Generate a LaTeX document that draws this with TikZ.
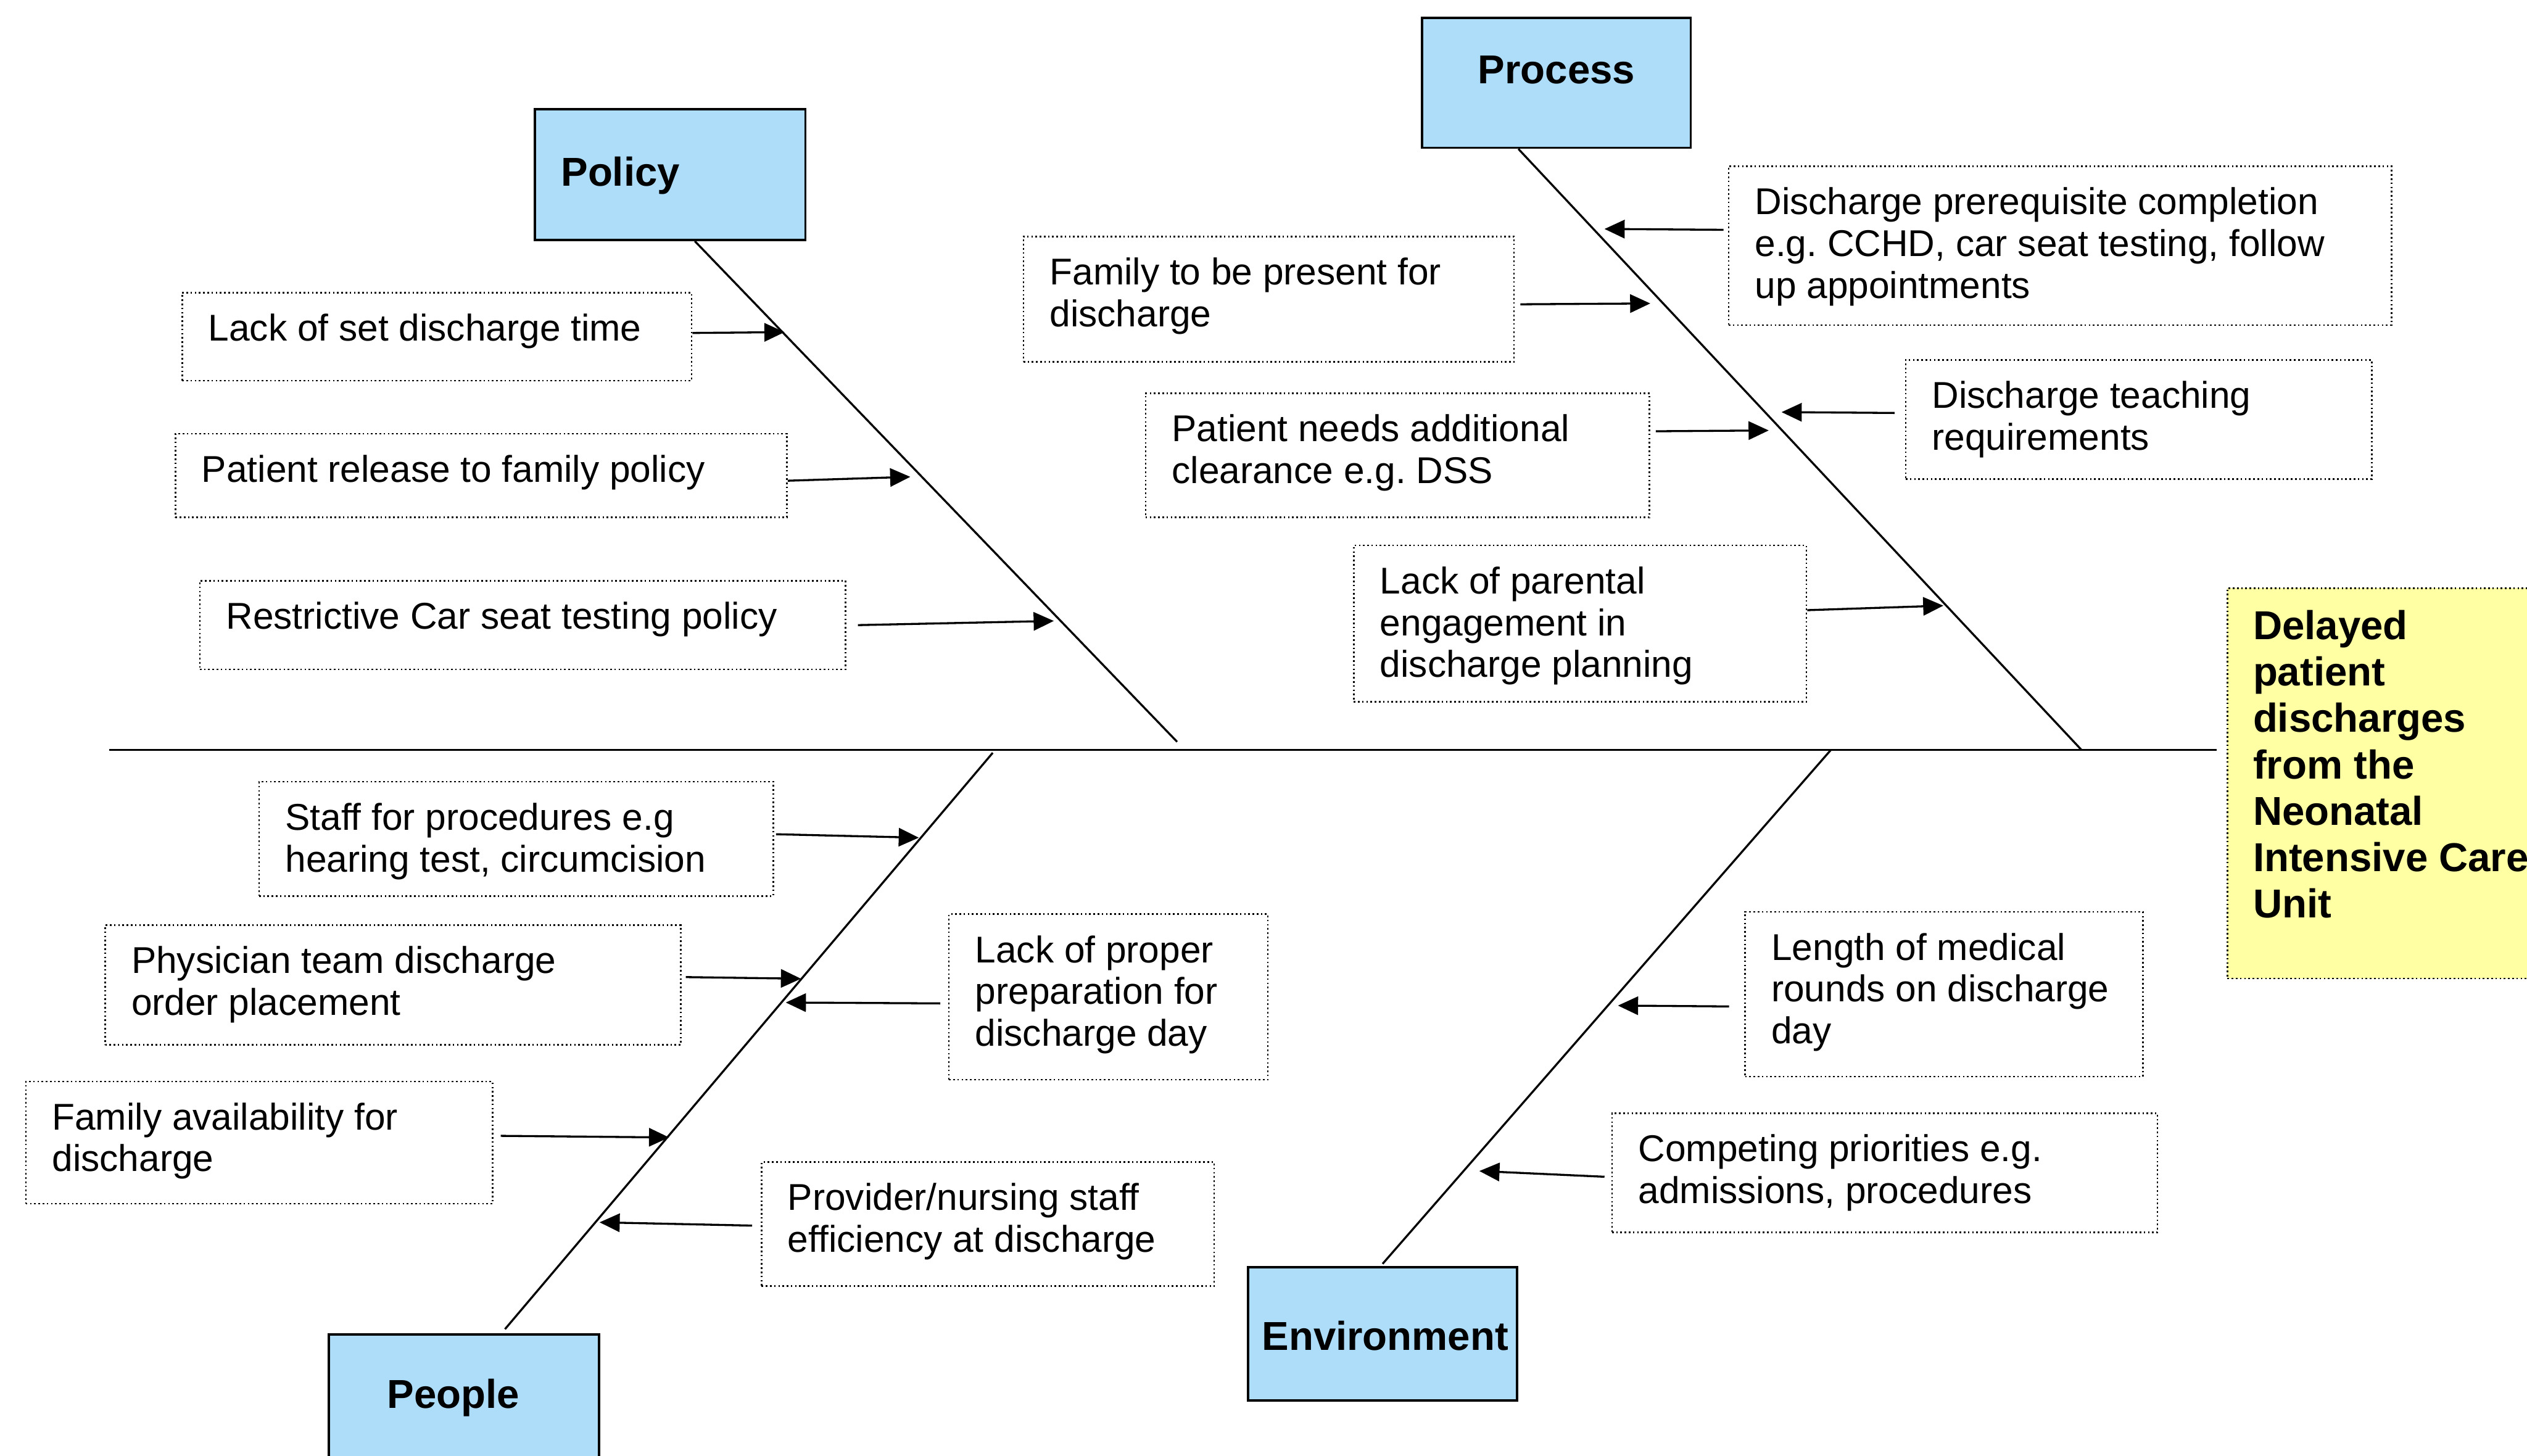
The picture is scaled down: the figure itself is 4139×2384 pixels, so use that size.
\documentclass[tikz,border=0pt]{standalone}
\usepackage{fontspec}
\setmainfont{Liberation Sans}
\usetikzlibrary{arrows.meta}

\definecolor{catblue}{RGB}{174,221,250}
\definecolor{effyellow}{RGB}{255,255,163}

% text block: width, height, left inset, first-baseline depth, text
\newcommand\tbox[5]{\parbox[c][#2][t]{#1}{\frenchspacing\raggedright\leftskip=#3\rule{0pt}{#4}#5}}
\newcommand\cause[3]{\tbox{#1}{#2}{0.43cm}{0.79cm}{#3}}

\tikzset{
  causebox/.style={draw, line width=0.75pt, dash pattern=on 0.75pt off 1.2pt,
    inner sep=0pt, anchor=north west,
    font=\fontsize{17.36pt}{19.49pt}\selectfont},
  catbox/.style={draw, line width=1.1pt, fill=catblue, inner sep=0pt,
    anchor=north west, font=\bfseries\fontsize{18.78pt}{21.62pt}\selectfont},
  effectbox/.style={draw, line width=0.75pt, dash pattern=on 0.75pt off 1.2pt,
    fill=effyellow, inner sep=0pt, anchor=north west,
    font=\bfseries\fontsize{18.78pt}{21.62pt}\selectfont},
  bone/.style={line width=0.95pt},
  arr/.style={line width=0.95pt, -{Triangle[length=0.33cm,width=0.30cm]}}
}

\begin{document}
\begin{tikzpicture}[x=0.01cm, y=-0.01cm]
\useasboundingbox (0,0) rectangle (4139,2384);
\fill[white] (0,0) rectangle (4139,2384);
\clip (0,0) rectangle (4139,2384);

% ---- effect ----
\node[effectbox] (effect) at (3647,962)
  {\tbox{5.6cm}{6.39cm}{0.42cm}{0.84cm}{Delayed\\patient\\discharges\\from the\\Neonatal\\Intensive Care\\Unit}};

% ---- spine ----
\coordinate (tail) at (179,1228);
\coordinate (head) at (3631,1228);
\draw[bone] (tail) -- (head);

% ---- category boxes ----
\node[catbox] (policy) at (874,177)   {\tbox{4.43cm}{2.14cm}{0.43cm}{1.26cm}{Policy}};
\node[catbox] (process) at (2327,27)  {\tbox{4.40cm}{2.13cm}{0.92cm}{1.08cm}{Process}};
\node[catbox] (people) at (537,2184)  {\tbox{4.42cm}{2.14cm}{0.95cm}{1.20cm}{People}};
\node[catbox] (environment) at (2042,2074) {\tbox{4.41cm}{2.18cm}{0.23cm}{1.35cm}{Environment}};

% ---- bones ----
\coordinate (pol-end) at (1928,1215);
\coordinate (pro-end) at (3409,1228);
\coordinate (peo-end) at (1626,1233);
\coordinate (env-end) at (2999,1228);
\draw[bone] ([xshift=0.405cm]policy.south) -- (pol-end);
\draw[bone] ([xshift=-0.62cm]process.south) -- (pro-end);
\draw[bone] ([xshift=0.67cm,yshift=0.07cm]people.north) -- (peo-end);
\draw[bone] ([yshift=0.04cm]environment.north) -- (env-end);

% ---- causes: policy ----
\node[causebox] (lack) at (297,478)     {\cause{8.34cm}{1.44cm}{Lack of set discharge time}};
\node[causebox] (release) at (286,709)  {\cause{10.01cm}{1.37cm}{Patient release to family policy}};
\node[causebox] (carseat) at (326,950)  {\cause{10.57cm}{1.45cm}{Restrictive Car seat testing policy}};

% ---- causes: process ----
\node[causebox] (present) at (1675,386)  {\cause{8.03cm}{2.05cm}{Family to be present for\\discharge}};
\node[causebox] (clearance) at (1875,643) {\cause{8.25cm}{2.03cm}{Patient needs additional\\clearance e.g. DSS}};
\node[causebox] (parental) at (2216,892) {\cause{7.41cm}{2.56cm}{Lack of parental\\engagement in\\discharge planning}};
\node[causebox] (prereq) at (2830,271)   {\cause{10.85cm}{2.60cm}{Discharge prerequisite completion\\e.g. CCHD, car seat testing, follow\\up appointments}};
\node[causebox] (teaching) at (3120,588) {\cause{7.63cm}{1.95cm}{Discharge teaching\\requirements}};

% ---- causes: people ----
\node[causebox] (staff) at (423,1279)      {\cause{8.42cm}{1.87cm}{Staff for procedures e.g\\hearing test, circumcision}};
\node[causebox] (physician) at (171,1514)  {\cause{9.42cm}{1.96cm}{Physician team discharge\\order placement}};
\node[causebox] (available) at (41,1770)   {\cause{7.64cm}{2.00cm}{Family availability for\\discharge}};
\node[causebox] (preparation) at (1553,1496) {\cause{5.22cm}{2.71cm}{Lack of proper\\preparation for\\discharge day}};
\node[causebox] (efficiency) at (1246,1902) {\cause{7.41cm}{2.03cm}{Provider/nursing staff\\efficiency at discharge}};

% ---- causes: environment ----
\node[causebox] (rounds) at (2857,1492)     {\cause{6.51cm}{2.70cm}{Length of medical\\rounds on discharge\\day}};
\node[causebox] (priorities) at (2639,1822) {\cause{8.93cm}{1.95cm}{Competing priorities e.g.\\admissions, procedures}};

% ---- arrow tips on the bones ----
\coordinate (t-lack) at (1285,544);
\coordinate (t-release) at (1491,781);
\coordinate (t-carseat) at (1726,1017);
\coordinate (t-present) at (2703,497);
\coordinate (t-clearance) at (2897,705);
\coordinate (t-parental) at (3183,992);
\coordinate (t-prereq) at (2628,375);
\coordinate (t-teaching) at (2918,675);
\coordinate (t-staff) at (1505,1372);
\coordinate (t-physician) at (1312,1603);
\coordinate (t-available) at (1096,1863);
\coordinate (t-preparation) at (1287,1642);
\coordinate (t-efficiency) at (982,2002);
\coordinate (t-rounds) at (2650,1647);
\coordinate (t-priorities) at (2423,1918);

% ---- arrows ----
\draw[arr] ([yshift=0.06cm]lack.east) -- (t-lack);
\draw[arr] ([yshift=-0.085cm]release.east) -- (t-release);
\draw[arr] ([xshift=0.19cm]carseat.east) -- (t-carseat);
\draw[arr] ([xshift=0.09cm,yshift=-0.085cm]present.east) -- (t-present);
\draw[arr] ([xshift=0.09cm,yshift=0.395cm]clearance.east) -- (t-clearance);
\draw[arr] ([yshift=0.22cm]parental.east) -- (t-parental);
\draw[arr] ([xshift=-0.07cm,yshift=0.26cm]prereq.west) -- (t-prereq);
\draw[arr] ([xshift=-0.17cm,yshift=0.105cm]teaching.west) -- (t-teaching);
\draw[arr] ([xshift=0.03cm,yshift=0.075cm]staff.east) -- (t-staff);
\draw[arr] ([xshift=0.07cm,yshift=0.13cm]physician.east) -- (t-physician);
\draw[arr] ([xshift=0.12cm,yshift=0.11cm]available.east) -- (t-available);
\draw[arr] ([xshift=-0.13cm,yshift=-0.105cm]preparation.west) -- (t-preparation);
\draw[arr] ([xshift=-0.14cm,yshift=-0.025cm]efficiency.west) -- (t-efficiency);
\draw[arr] ([xshift=-0.25cm,yshift=-0.2cm]rounds.west) -- (t-rounds);
\draw[arr] ([xshift=-0.11cm,yshift=-0.065cm]priorities.west) -- (t-priorities);
\end{tikzpicture}
\end{document}
